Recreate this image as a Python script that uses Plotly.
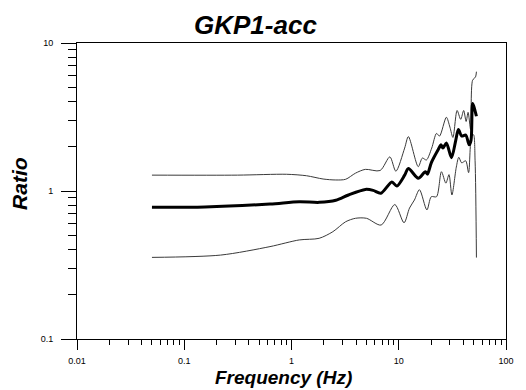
import plotly.graph_objects as go

# Mean H/V spectral ratio
freq_mean = [0.05, 0.156, 0.63, 1.18, 1.81, 2.59, 3.40, 4.88, 5.77, 6.8, 8.63, 9.59,
             11.35, 12.3, 15.2, 17.7, 18.5, 20.1, 23.3, 24.8, 25.8, 27.8, 31.0, 34.0,
             36.0, 38.6, 42.1, 45.3, 47.2, 48.8, 50.3, 53.0]
ratio_mean = [0.776, 0.78, 0.817, 0.846, 0.838, 0.865, 0.94, 1.025, 1.01, 0.965, 1.15, 1.08,
              1.28, 1.42, 1.22, 1.35, 1.30, 1.55, 1.9, 2.05, 1.95, 2.11, 1.68, 2.2,
              2.6, 2.35, 2.39, 2.05, 2.2, 3.9, 3.7, 3.2]

# Mean + one standard deviation
freq_upper = [0.05, 0.313, 0.90, 1.38, 1.97, 2.59, 3.2, 3.95, 4.88, 6.7, 8.26, 9.4,
              11.35, 12.3, 15.2, 16.6, 18.1, 20.3, 22.5, 24.0, 27.8, 30.0, 32.0, 35.0,
              37.8, 40.3, 42.5, 44.3, 46.8, 48.8, 52.0, 53.0]
ratio_upper = [1.28, 1.28, 1.297, 1.268, 1.205, 1.187, 1.20, 1.32, 1.40, 1.375, 1.70, 1.36,
               1.95, 2.33, 1.46, 1.67, 1.62, 1.95, 2.45, 2.35, 3.15, 2.7, 2.3, 3.5,
               3.05, 3.5, 2.95, 3.4, 2.6, 5.6, 5.9, 6.4]

# Mean - one standard deviation
freq_lower = [0.05, 0.218, 0.63, 1.18, 1.81, 2.43, 3.2, 3.95, 5.0, 6.85, 9.19, 11.2,
              12.6, 14.0, 15.6, 18.3, 20.1, 22.5, 25.0, 27.5, 29.4, 31.3, 34.4, 36.3,
              38.6, 42.1, 44.8, 47.7, 49.8, 51.5, 53.0]
ratio_lower = [0.356, 0.369, 0.421, 0.467, 0.479, 0.531, 0.62, 0.654, 0.654, 0.589, 0.81, 0.61,
               0.767, 0.869, 1.02, 0.745, 0.915, 0.915, 1.35, 1.13, 1.29, 0.94, 1.45, 1.69,
               1.55, 1.60, 1.33, 2.33, 2.4, 1.6, 0.355]

x_ticks = [0.01, 0.1, 1, 10, 100]
x_tick_text = ["0.01", "0.1", "1", "10", "100"]
y_ticks = [0.1, 1, 10]
y_tick_text = ["0.1", "1", "10"]

W, H = 526, 390
L, R, T, B = 77, 13, 43, 51
PW, PH = W - L - R, H - T - B

bold_italic = dict(family="Liberation Sans, Arial, sans-serif", color="black",
                   weight="bold", style="italic")

fig = go.Figure()
fig.add_trace(go.Scatter(x=freq_upper, y=ratio_upper, mode="lines",
                         line=dict(color="#3a3a3a", width=1, shape="spline", smoothing=0.8),
                         showlegend=False))
fig.add_trace(go.Scatter(x=freq_lower, y=ratio_lower, mode="lines",
                         line=dict(color="#3a3a3a", width=1, shape="spline", smoothing=0.8),
                         showlegend=False))
fig.add_trace(go.Scatter(x=freq_mean, y=ratio_mean, mode="lines",
                         line=dict(color="black", width=3, shape="spline", smoothing=0.8),
                         showlegend=False))

axis_common = dict(
    type="log",
    showgrid=False,
    zeroline=False,
    showline=True,
    linecolor="black",
    linewidth=1,
    mirror=True,
    ticks="outside",
    tickcolor="black",
    tickwidth=1,
    tickfont=dict(family="Liberation Sans, Arial, sans-serif", size=9, color="black"),
)

fig.update_xaxes(
    **axis_common,
    range=[-2, 2],
    tickmode="array",
    tickvals=x_ticks,
    ticktext=x_tick_text,
    ticklen=10,
    ticklabelstandoff=3,
    minor=dict(ticks="outside", ticklen=5, tickcolor="black", tickwidth=1, dtick="D1"),
)
fig.update_yaxes(
    **axis_common,
    range=[-1, 1],
    tickmode="array",
    tickvals=y_ticks,
    ticktext=y_tick_text,
    ticklen=15,
    ticklabelstandoff=6,
    minor=dict(ticks="outside", ticklen=8, tickcolor="black", tickwidth=1, dtick="D1"),
)

fig.update_layout(
    width=W,
    height=H,
    margin=dict(l=L, r=R, t=T, b=B),
    paper_bgcolor="white",
    plot_bgcolor="white",
    annotations=[
        dict(text="GKP1-acc", xref="paper", yref="paper", x=(258 - L) / PW,
             y=1 + 18 / PH, xanchor="center", yanchor="middle",
             showarrow=False, font=dict(**bold_italic, size=26)),
        dict(text="Frequency (Hz)", xref="paper", yref="paper", x=(287 - L) / PW,
             y=-38 / PH, xanchor="center", yanchor="middle",
             showarrow=False, font=dict(**bold_italic, size=19)),
        dict(text="Ratio", xref="paper", yref="paper", x=-59 / PW,
             y=(339 - 183) / PH, xanchor="center", yanchor="middle", textangle=-90,
             showarrow=False, font=dict(**bold_italic, size=21)),
    ],
)

fig.write_html("out.html")
